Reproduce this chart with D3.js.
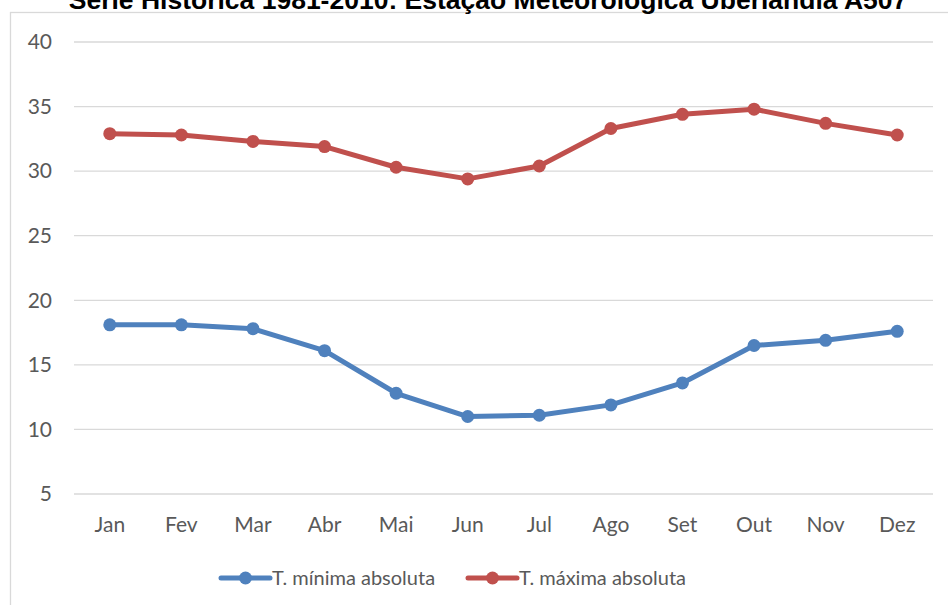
<!DOCTYPE html>
<html>
<head>
<meta charset="utf-8">
<script src="https://cdn.jsdelivr.net/npm/d3@7"></script>
<style>
  body { margin: 0; background: #fff; }
  svg { display: block; }
</style>
</head>
<body>
<div id="chart"></div>
<script>
// dados: temperaturas absolutas mensais
var months = ["Jan", "Fev", "Mar", "Abr", "Mai", "Jun", "Jul", "Ago", "Set", "Out", "Nov", "Dez"];
var tMin = [18.1, 18.1, 17.8, 16.1, 12.8, 11.0, 11.1, 11.9, 13.6, 16.5, 16.9, 17.6];
var tMax = [32.9, 32.8, 32.3, 31.9, 30.3, 29.4, 30.4, 33.3, 34.4, 34.8, 33.7, 32.8];
var yTicks = [5, 10, 15, 20, 25, 30, 35, 40];
var seriesNames = ["T. mínima absoluta", "T. máxima absoluta"];
var colors = ["#4F81BD", "#C0504D"];
var title = "Série Histórica 1981-2010: Estação Meteorológica Uberlândia A507";

var width = 948, height = 605;
var margin = {left: 74, right: 15, top: 42, bottom: 111};

var svg = d3.select("#chart")
	.append("svg")
	.attr("width", width)
	.attr("height", height);

// moldura do gráfico
svg.append("rect")
	.attr("x", 10.5)
	.attr("y", 12.5)
	.attr("width", 960)
	.attr("height", 620)
	.attr("fill", "none")
	.attr("stroke", "#d9d9d9")
	.attr("stroke-width", 1.3);

svg.append("text")
	.attr("x", 488)
	.attr("y", 9)
	.attr("text-anchor", "middle")
	.style("font-family", "Arial, 'Liberation Sans', sans-serif")
	.style("font-weight", "bold")
	.style("font-size", "26.5px")
	.style("fill", "#000")
	.text(title);

var x = d3.scaleBand()
	.domain(months)
	.range([margin.left, width - margin.right]);

var y = d3.scaleLinear()
	.domain([5, 40])
	.range([height - margin.bottom, margin.top]);

var font = "Lato, 'Open Sans', sans-serif";

// linhas de grade
svg.append("g")
	.selectAll("line")
	.data(yTicks)
	.enter()
	.append("line")
	.attr("x1", margin.left)
	.attr("x2", width - margin.right)
	.attr("y1", function(d) { return y(d); })
	.attr("y2", function(d) { return y(d); })
	.attr("stroke", "#d9d9d9")
	.attr("stroke-width", 1.3);

var yAxis = svg.append("g")
	.attr("transform", "translate(" + (margin.left - 22) + ",0)")
	.call(d3.axisLeft(y).tickValues(yTicks).tickSize(0).tickPadding(0));
yAxis.select(".domain").remove();
yAxis.selectAll("text")
	.style("font-family", font)
	.style("font-size", "21px")
	.style("fill", "#595959");

var xAxis = svg.append("g")
	.attr("transform", "translate(0," + (height - margin.bottom) + ")")
	.call(d3.axisBottom(x).tickSize(0).tickPadding(23));
xAxis.select(".domain").remove();
xAxis.selectAll("text")
	.style("font-family", font)
	.style("font-size", "21px")
	.style("fill", "#595959");

var line = d3.line()
	.x(function(d, i) { return x(months[i]) + x.bandwidth() / 2; })
	.y(function(d) { return y(d); });

[tMin, tMax].forEach(function(vals, k) {
	svg.append("path")
		.datum(vals)
		.attr("d", line)
		.attr("fill", "none")
		.attr("stroke", colors[k])
		.attr("stroke-width", 5)
		.attr("stroke-linejoin", "round")
		.attr("stroke-linecap", "round");
	svg.append("g")
		.selectAll("circle")
		.data(vals)
		.enter()
		.append("circle")
		.attr("cx", function(d, i) { return x(months[i]) + x.bandwidth() / 2; })
		.attr("cy", function(d) { return y(d); })
		.attr("r", 6.5)
		.attr("fill", colors[k]);
});

// legenda
var legendX = [221, 468];
var legend = svg.append("g")
	.selectAll("g")
	.data(seriesNames)
	.enter()
	.append("g")
	.attr("transform", function(d, i) { return "translate(" + legendX[i] + ",578)"; });
legend.append("line")
	.attr("x1", 0).attr("x2", 49)
	.attr("stroke", function(d, i) { return colors[i]; })
	.attr("stroke-width", 5)
	.attr("stroke-linecap", "round");
legend.append("circle")
	.attr("cx", 24.5)
	.attr("r", 6.5)
	.attr("fill", function(d, i) { return colors[i]; });
legend.append("text")
	.attr("x", 51)
	.attr("dy", "0.35em")
	.style("font-family", font)
	.style("font-size", "20px")
	.style("fill", "#595959")
	.text(function(d) { return d; });
</script>
</body>
</html>
